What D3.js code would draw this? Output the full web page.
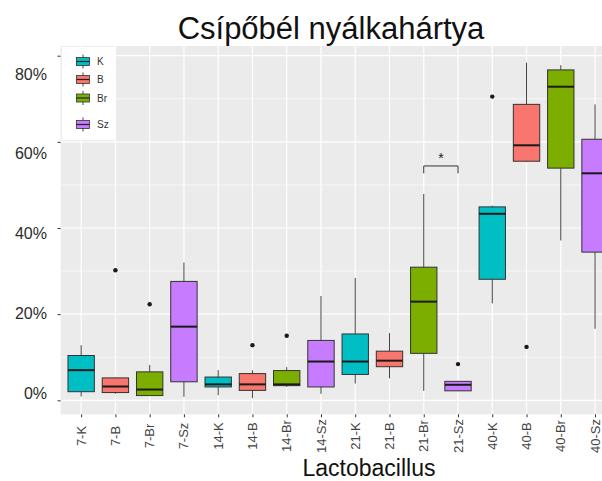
<!DOCTYPE html>
<html>
<head>
<meta charset="utf-8">
<script src="https://cdn.jsdelivr.net/npm/d3@7"></script>
<style>
  body { margin: 0; background: #fff; }
  svg { display: block; font-family: "Liberation Sans", Arial, sans-serif; }
</style>
</head>
<body>
<div id="chart"></div>
<script>
// values (percent)
const categories = ['7-K', '7-B', '7-Br', '7-Sz', '14-K', '14-B', '14-Br', '14-Sz',
  '21-K', '21-B', '21-Br', '21-Sz', '40-K', '40-B', '40-Br', '40-Sz'];
const whiskerLow  = [0.9, 1.5, 1.0, 0.8, 1.2, 0.5, 3.1, 1.5, 3.9, 5.1, 2.2, 2.2, 22.5, 55.3, 37.1, 16.6];
const q1          = [2.0, 1.8, 1.1, 4.3, 3.1, 2.3, 3.4, 3.1, 6.0, 7.8, 10.9, 2.2, 28.1, 55.5, 53.9, 34.4];
const median      = [7.0, 3.2, 2.5, 17.1, 3.7, 3.7, 3.7, 9.0, 9.0, 9.2, 22.9, 3.6, 43.3, 59.2, 72.8, 52.7];
const q3          = [10.4, 5.2, 6.6, 27.6, 5.4, 6.2, 6.9, 13.9, 15.4, 11.4, 30.9, 4.4, 44.9, 68.7, 76.7, 60.6];
const whiskerHigh = [12.8, 5.3, 8.2, 32.0, 7.0, 7.0, 7.7, 24.2, 28.4, 15.6, 47.9, 4.4, 45.2, 78.4, 77.8, 68.7];
const outliers    = [[], [30.2], [22.3], [], [], [12.8], [15.0], [], [], [], [], [8.4], [70.5], [12.4], [], []];

const groups = ['K', 'B', 'Br', 'Sz'];
const groupColors = ['#00BFC4', '#F8766D', '#7CAE00', '#C77CFF'];

const yTicks = [0, 20, 40, 60, 80];
const yMinor = [10, 30, 50, 70];

// significance bracket: from, to, bar height, drop height
const bracket = { from: '21-Br', to: '21-Sz', top: 54.4, drop: 52.7, label: '*' };

const width = 602, height = 481;
const panel = { left: 60.6, right: 615.6, top: 46, bottom: 414.3 };

const svg = d3.select('#chart').append('svg')
  .attr('width', width)
  .attr('height', height);

const x = d3.scalePoint()
  .domain(categories)
  .range([panel.left, panel.right])
  .padding(0.6);

const y = d3.scaleLinear()
  .domain([-3.25, 82.25])
  .range([panel.bottom, panel.top]);

// tick labels sit a little apart from the tick marks in the picture
const yLabel = d3.scaleLinear()
  .domain([0, 80])
  .range([393, 74]);

const color = d3.scaleOrdinal().domain(groups).range(groupColors);
const groupOf = c => c.split('-')[1];

// panel background + grid
svg.append('rect')
  .attr('x', panel.left).attr('y', panel.top)
  .attr('width', panel.right - panel.left)
  .attr('height', panel.bottom - panel.top)
  .attr('fill', '#EBEBEB');

const grid = svg.append('g').attr('stroke', '#fff');
grid.selectAll('.minor').data(yMinor).join('line')
  .attr('x1', panel.left).attr('x2', panel.right)
  .attr('y1', d => y(d)).attr('y2', d => y(d))
  .attr('stroke-width', 0.6);
grid.selectAll('.major-y').data(yTicks).join('line')
  .attr('x1', panel.left).attr('x2', panel.right)
  .attr('y1', d => y(d)).attr('y2', d => y(d))
  .attr('stroke-width', 1.2);
grid.selectAll('.major-x').data(categories).join('line')
  .attr('x1', d => x(d)).attr('x2', d => x(d))
  .attr('y1', panel.top).attr('y2', panel.bottom)
  .attr('stroke-width', 1.2);

// axes (tick marks only, labels placed by hand scale)
const yAxis = svg.append('g')
  .attr('transform', `translate(${panel.left},0)`)
  .call(d3.axisLeft(y).tickValues(yTicks).tickSize(3).tickFormat(''));
yAxis.select('.domain').remove();
yAxis.selectAll('line').attr('stroke', '#333');

svg.append('g').selectAll('text').data(yTicks).join('text')
  .attr('x', 47)
  .attr('y', d => yLabel(d))
  .attr('dy', '0.35em')
  .attr('text-anchor', 'end')
  .attr('font-size', 16)
  .attr('fill', '#2b2b2b')
  .text(d => d + '%');

const xAxis = svg.append('g')
  .attr('transform', `translate(0,${panel.bottom})`)
  .call(d3.axisBottom(x).tickSize(3).tickFormat(''));
xAxis.select('.domain').remove();
xAxis.selectAll('line').attr('stroke', '#333');

svg.append('g').selectAll('text').data(categories).join('text')
  .attr('transform', d => `translate(${x(d)},436) rotate(-90)`)
  .attr('dy', '0.35em')
  .attr('text-anchor', 'middle')
  .attr('font-size', 13)
  .attr('fill', '#444')
  .text(d => d);

// boxplots
const boxW = x.step() * 0.77;
const boxes = svg.append('g');
categories.forEach((c, i) => {
  const cx = x(c);
  const g = boxes.append('g');
  g.append('line')
    .attr('x1', cx).attr('x2', cx)
    .attr('y1', y(whiskerLow[i])).attr('y2', y(q1[i]))
    .attr('stroke', '#444').attr('stroke-width', 1);
  g.append('line')
    .attr('x1', cx).attr('x2', cx)
    .attr('y1', y(q3[i])).attr('y2', y(whiskerHigh[i]))
    .attr('stroke', '#444').attr('stroke-width', 1);
  g.append('rect')
    .attr('x', cx - boxW / 2)
    .attr('y', y(q3[i]))
    .attr('width', boxW)
    .attr('height', Math.max(y(q1[i]) - y(q3[i]), 0.5))
    .attr('fill', color(groupOf(c)))
    .attr('stroke', '#333')
    .attr('stroke-width', 1);
  g.append('line')
    .attr('x1', cx - boxW / 2).attr('x2', cx + boxW / 2)
    .attr('y1', y(median[i])).attr('y2', y(median[i]))
    .attr('stroke', '#1a1a1a').attr('stroke-width', 2);
  g.selectAll('circle').data(outliers[i]).join('circle')
    .attr('cx', cx)
    .attr('cy', d => y(d))
    .attr('r', 2.2)
    .attr('fill', '#1a1a1a');
});

// significance bracket
const bx1 = x(bracket.from), bx2 = x(bracket.to);
svg.append('path')
  .attr('d', `M${bx1},${y(bracket.drop)}V${y(bracket.top)}H${bx2}V${y(bracket.drop)}`)
  .attr('fill', 'none')
  .attr('stroke', '#333')
  .attr('stroke-width', 1);
svg.append('text')
  .attr('x', (bx1 + bx2) / 2)
  .attr('y', y(bracket.top) - 3)
  .attr('text-anchor', 'middle')
  .attr('font-size', 14)
  .attr('fill', '#222')
  .text(bracket.label);

// legend
const legend = svg.append('g');
legend.append('rect')
  .attr('x', 62).attr('y', 47)
  .attr('width', 53).attr('height', 93)
  .attr('fill', '#fff');
const legendY = [61.5, 79.5, 98, 124.5];
groups.forEach((gName, i) => {
  const ly = legendY[i];
  const item = legend.append('g').attr('transform', `translate(83,${ly})`);
  item.append('line')
    .attr('y1', -7).attr('y2', 7)
    .attr('stroke', '#444');
  item.append('rect')
    .attr('x', -6.5).attr('y', -4)
    .attr('width', 13).attr('height', 8)
    .attr('fill', color(gName))
    .attr('stroke', '#333')
    .attr('stroke-width', 0.8);
  item.append('line')
    .attr('x1', -6.5).attr('x2', 6.5)
    .attr('stroke', '#222').attr('stroke-width', 1.2);
  legend.append('text')
    .attr('x', 97)
    .attr('y', ly)
    .attr('dy', '0.35em')
    .attr('font-size', 10)
    .attr('fill', '#333')
    .text(gName);
});

// titles
svg.append('text')
  .attr('x', 331)
  .attr('y', 39)
  .attr('text-anchor', 'middle')
  .attr('font-size', 31)
  .attr('fill', '#111')
  .text('Csípőbél nyálkahártya');

svg.append('text')
  .attr('x', 369)
  .attr('y', 476)
  .attr('text-anchor', 'middle')
  .attr('font-size', 23)
  .attr('fill', '#111')
  .text('Lactobacillus');
</script>
</body>
</html>
